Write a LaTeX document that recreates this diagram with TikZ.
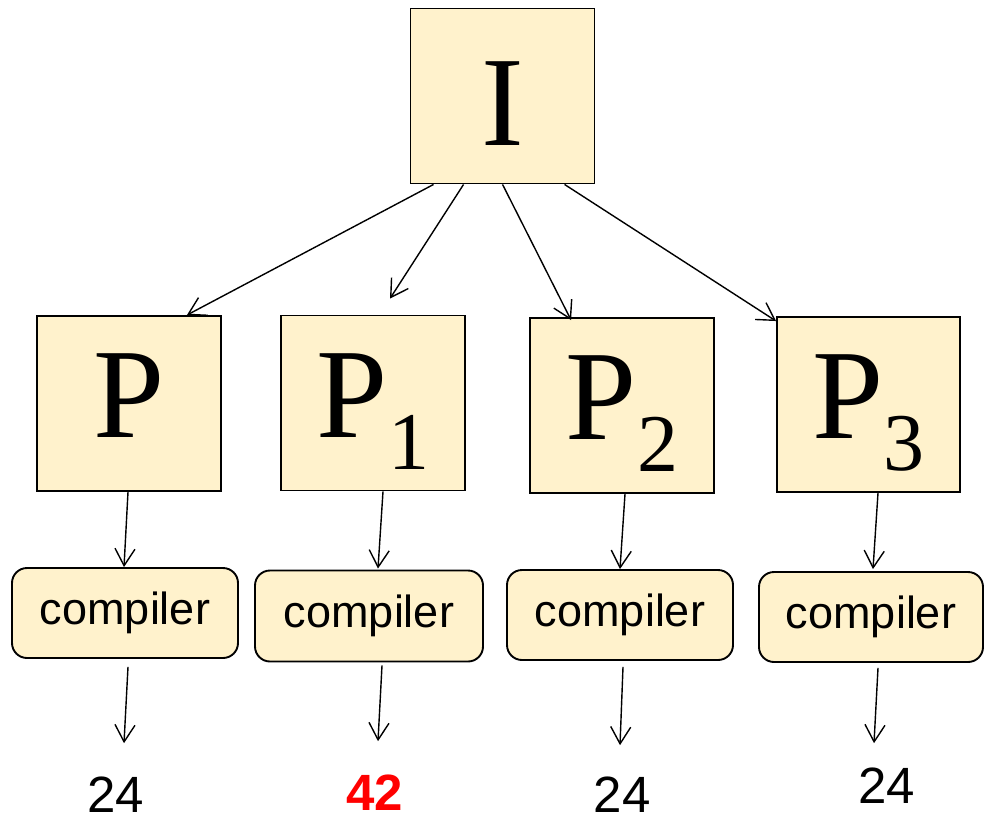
\documentclass[tikz,border=0pt]{standalone}
\usepackage{fontspec}
\setmainfont{Liberation Serif}
\newfontfamily\arialf{Liberation Sans}
\usetikzlibrary{arrows.meta,calc}
\definecolor{boxfill}{HTML}{FFF2CC}
\definecolor{numred}{HTML}{FF0000}
\tikzset{
  bigbox/.style={draw=black, line width=1.9pt, fill=boxfill, inner sep=0pt,
    minimum width=184pt, minimum height=175pt, text height=68pt, text depth=0pt,
    font=\fontsize{128}{128}\selectfont},
  compbox/.style={draw=black, line width=1.9pt, fill=boxfill, inner sep=0pt,
    rounded corners=15pt, minimum width=226pt, minimum height=90pt,
    font=\arialf\fontsize{45}{45}\selectfont},
  numtext/.style={inner sep=0pt, anchor=base, font=\arialf\fontsize{51}{51}\selectfont},
  conn/.style={line width=1.4pt, -{Straight Barb[length=17pt,width=20pt]}},
}
\newcommand{\subdig}[1]{{\fontsize{82}{82}\selectfont\raisebox{-32pt}{#1}}}
\begin{document}
\begin{tikzpicture}[x=1pt,y=-1pt]
\useasboundingbox (0,0) rectangle (984,818);
% top box
\node[bigbox, text height=100pt] (I) at (502.5,96) {I};
% program boxes
\node[bigbox] (P)  at (129,403.5) {P};
\node[bigbox] (P1) at (373,403)   {P\subdig{1}};
\node[bigbox] (P2) at (622,405.5) {P\subdig{2}};
\node[bigbox, minimum width=183pt] (P3) at (868.5,404.5) {P\subdig{3}};
% compilers
\node[compbox] (C1) at (125,613) {compiler};
\node[compbox, minimum width=228pt, minimum height=91pt] (C2) at (369,616) {compiler};
\node[compbox] (C3) at (620,615) {compiler};
\node[compbox, minimum width=224pt] (C4) at (871,617) {compiler};
% results
\node[numtext] (n1) at (116,812) {24};
\node[numtext, text=numred, font=\arialf\bfseries\fontsize{51}{51}\selectfont] (n2) at (375,810) {42};
\node[numtext] (n3) at (622,812) {24};
\node[numtext] (n4) at (886.5,803) {24};
% connectors from I
\draw[conn] ($(I.south west)+(24,0)$) -- ($(P.north east)+(-35,0)$);
\draw[conn] ($(I.south west)+(54,0)$) -- ($(P1.north)+(17,-16)$);
\draw[conn] ($(I.south west)+(93,0)$) -- ($(P2.north west)+(42,3)$);
\draw[conn] ($(I.south west)+(155,0)$) -- ($(P3.north west)+(0,5)$);
% program -> compiler
\draw[conn] ($(P.south)+(-1,0)$) -- ($(C1.north)+(-1,0)$);
\draw[conn] ($(P1.south)+(10,0)$) -- ($(C2.north)+(9,-1)$);
\draw[conn] ($(P2.south)+(3,0)$) -- ($(C3.north)+(0,0)$);
\draw[conn] ($(P3.south)+(9.5,0)$) -- ($(C4.north)+(2,-2)$);
% compiler -> result
\draw[conn] ($(C1.south)+(3,8)$) -- ($(n1.north)+(8,-33)$);
\draw[conn] ($(C2.south)+(13,3)$) -- ($(n2.north)+(3,-33)$);
\draw[conn] ($(C3.south)+(3,6)$) -- ($(n3.north)+(-2,-31)$);
\draw[conn] ($(C4.south)+(7,5)$) -- ($(n4.north)+(-12.5,-24)$);
\end{tikzpicture}
\end{document}
